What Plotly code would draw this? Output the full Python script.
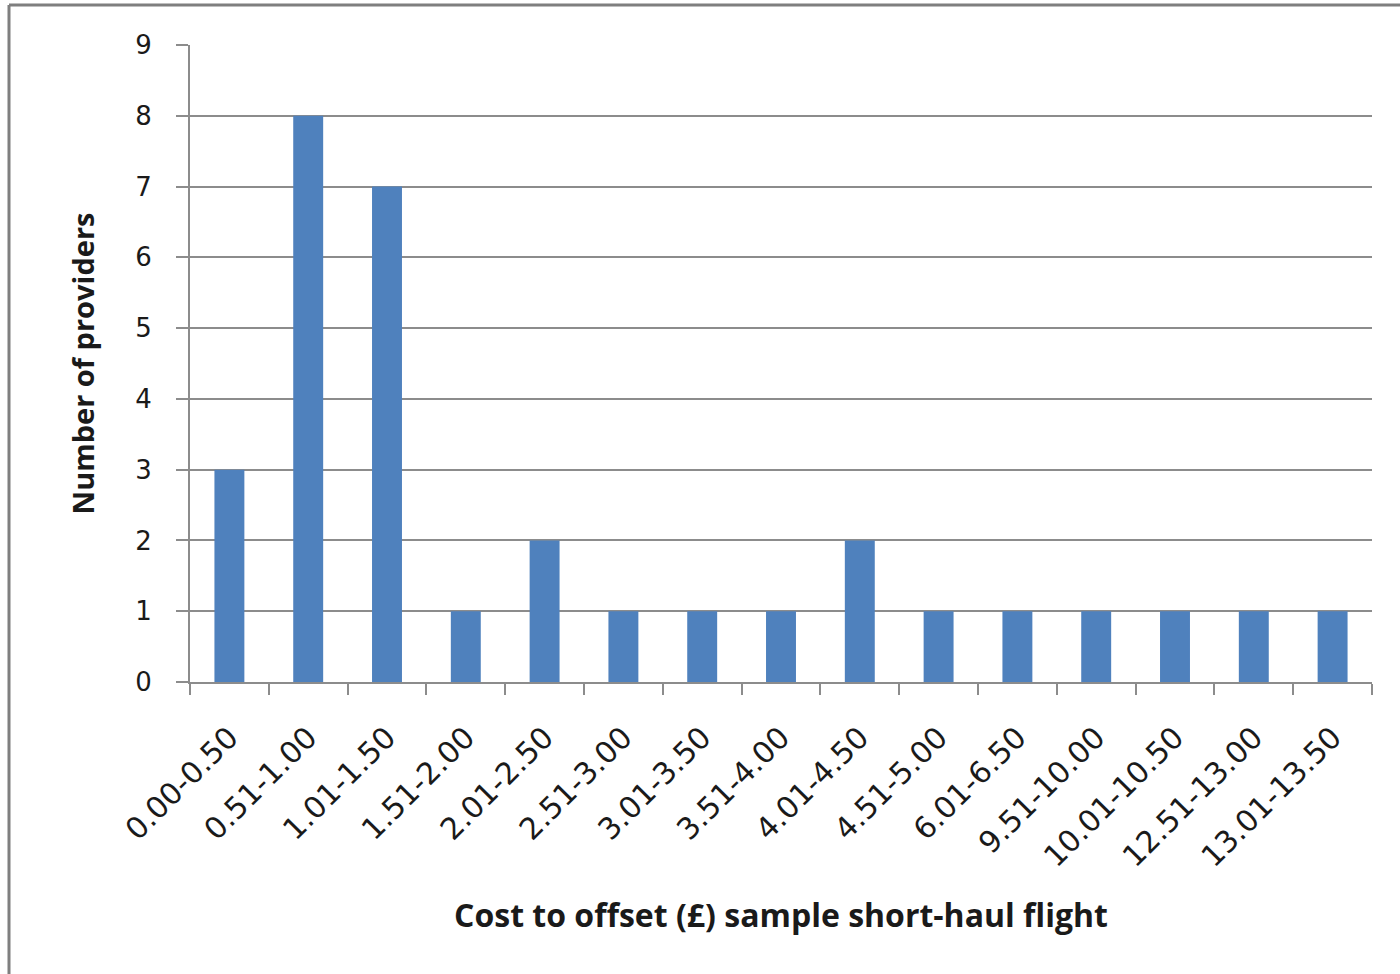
import plotly.graph_objects as go

# Offset cost bands (GBP) and number of providers in each band
cost_bands = ["0.00-0.50", "0.51-1.00", "1.01-1.50", "1.51-2.00", "2.01-2.50",
              "2.51-3.00", "3.01-3.50", "3.51-4.00", "4.01-4.50", "4.51-5.00",
              "6.01-6.50", "9.51-10.00", "10.01-10.50", "12.51-13.00", "13.01-13.50"]
providers = [3, 8, 7, 1, 2, 1, 1, 1, 2, 1, 1, 1, 1, 1, 1]
y_ticks = list(range(0, 10))

W, H = 1400, 974
L, R, T, B = 190, 28, 45, 292
pw, ph = W - L - R, H - T - B

fig = go.Figure(go.Bar(
    x=cost_bands, y=providers,
    marker=dict(color="#4f81bd", line=dict(color="#4f81bd", width=0)),
    width=0.38,
))

grid = "#8c8c8c"
fig.update_layout(
    width=W, height=H,
    margin=dict(l=L, r=R, t=T, b=B, pad=0),
    paper_bgcolor="white", plot_bgcolor="white",
    showlegend=False,
    font=dict(family="DejaVu Sans", color="#1a1a1a"),
    xaxis=dict(
        type="category", tickson="boundaries",
        ticks="outside", ticklen=11, tickwidth=2, tickcolor=grid,
        showline=True, linecolor=grid, linewidth=2,
        tickangle=-45, tickfont=dict(size=30, family="DejaVu Sans", color="#1a1a1a"),
        ticklabelstandoff=24,
        showgrid=False,
        title=dict(text="<b>Cost to offset (£) sample short-haul flight</b>",
                   font=dict(size=32, family="Open Sans", color="#1a1a1a"), standoff=32),
    ),
    yaxis=dict(
        range=[0, 9], tickvals=y_ticks,
        ticks="outside", ticklen=12, tickwidth=2, tickcolor=grid,
        showline=True, linecolor=grid, linewidth=2,
        showgrid=True, gridcolor=grid, gridwidth=2,
        zeroline=False,
        tickfont=dict(size=26, family="DejaVu Sans", color="#1a1a1a"),
        ticklabelstandoff=19,
        title=dict(text="<b>Number of providers</b>",
                   font=dict(size=29, family="Open Sans", color="#1a1a1a"), standoff=32),
    ),
)

# Chart-area frame (left and top edges)
x_left = (9 - L) / pw
y_top = 1 + (T - 5) / ph
y_bot = -(B) / ph
fig.add_shape(type="line", xref="paper", yref="paper", x0=x_left, x1=x_left,
              y0=y_bot, y1=y_top, line=dict(color="#7f7f7f", width=3))
fig.add_shape(type="line", xref="paper", yref="paper", x0=x_left, x1=1 + R / pw,
              y0=y_top, y1=y_top, line=dict(color="#7f7f7f", width=3))

fig.write_html("out.html")
